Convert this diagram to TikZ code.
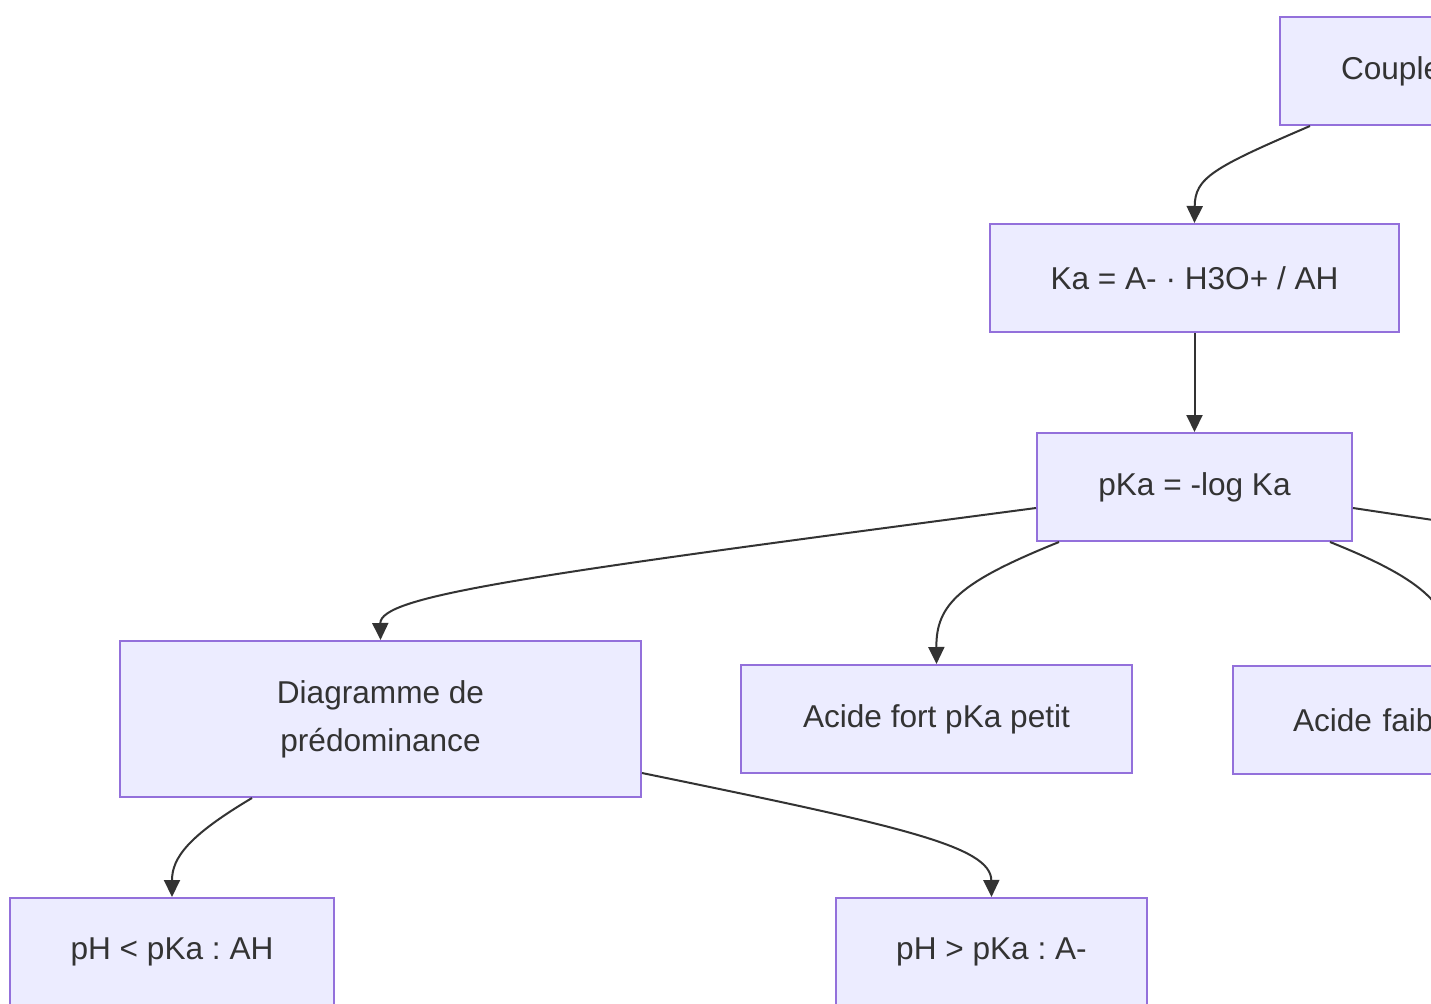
\documentclass[tikz,border=0pt]{standalone}
\usepackage{fontspec}
\setmainfont{Liberation Sans}
\usetikzlibrary{arrows.meta}
\definecolor{boxfill}{HTML}{ECECFF}
\definecolor{boxline}{HTML}{9370DB}
\definecolor{ink}{HTML}{333333}
\frenchspacing
\begin{document}
\begin{tikzpicture}[x=0.5pt,y=-0.5pt,
  box/.style={draw=boxline,fill=boxfill,line width=1pt,text=ink,inner sep=0pt,
    align=center,font=\fontsize{15.8}{24}\selectfont\frenchspacing},
  link/.style={draw=ink,line width=1pt,-{Triangle[length=8.5pt,width=8pt]}},
  plain/.style={draw=ink,line width=1pt}]
\clip (0,0) rectangle (1431,1003);
\fill[white] (0,0) rectangle (1431,1003);

% nodes
\node[box,anchor=north west,minimum height=54pt,text width=200pt,inner xsep=30.5pt,align=left]
  (couple) at (1279,16) {Couple};
\node[box,minimum width=204.5pt,minimum height=54pt] (ka) at (1194.5,278) {Ka = A- · H3O+ / AH};
\node[box,minimum width=157.5pt,minimum height=54pt] (pka) at (1194.5,487) {pKa = -log Ka};
\node[box,minimum width=260.5pt,minimum height=78pt] (diag) at (380.5,719) {Diagramme de\\prédominance};
\node[box,minimum width=195.5pt,minimum height=54pt] (fort) at (936.5,719) {Acide fort pKa petit};
\node[box,anchor=north west,minimum height=54pt,text width=200pt,inner xsep=30pt,align=left]
  (faible) at (1232,665) {Acide faible};
\node[box,minimum width=162pt,minimum height=54pt] (phlow) at (172,952) {pH < pKa : AH};
\node[box,minimum width=155.5pt,minimum height=54pt] (phhigh) at (991.5,952) {pH > pKa : A-};
\coordinate (beyond) at (1700,560);

% connectors
\draw[link] (couple.south west) ++(31,0) .. controls (1212,168) and (1195,178) .. (ka.north);
\draw[link] (ka.south) -- (pka.north);
\draw[link] (pka.west) ++(0,21) .. controls (520,576) and (380,596) .. (diag.north);
\draw[link] (pka.south west) ++(23,0) .. controls (960,582) and (936,604) .. (fort.north);
\draw[link] (pka.south east) ++(-23,0) .. controls (1420,578) and (1450,604) .. ([xshift=110pt]faible.north west);
\draw[plain] (pka.east) ++(0,21) -- (beyond);
\draw[link] (diag.south west) ++(133,0) .. controls (188,836) and (172,858) .. (phlow.north);
\draw[link] (diag.east) ++(0,54) .. controls (900,826) and (991,846) .. (phhigh.north);
\end{tikzpicture}
\end{document}
